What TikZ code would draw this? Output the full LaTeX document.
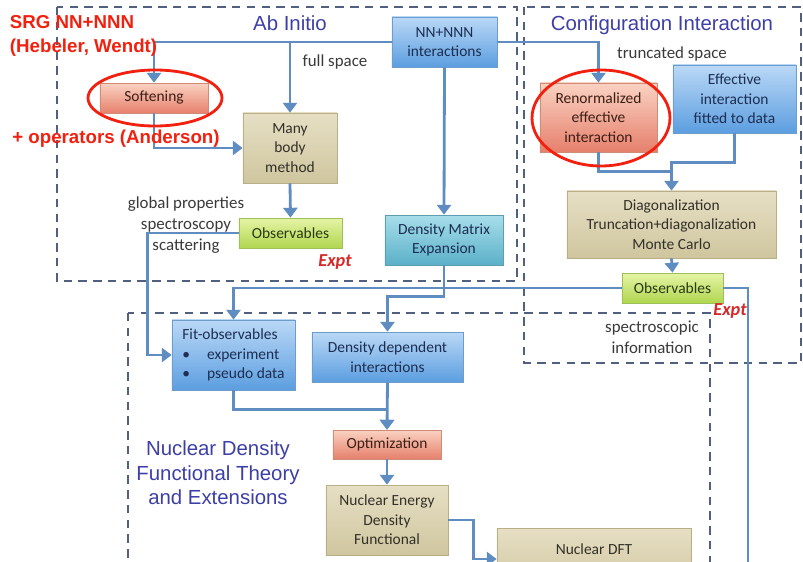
\documentclass[tikz,border=0pt]{standalone}
\usepackage{fontspec}
\setmainfont{Carlito}
\newfontfamily\headfont{Liberation Sans}
\usetikzlibrary{arrows.meta,shadows,calc}
\definecolor{connblue}{HTML}{5F8DC2}
\definecolor{frame}{HTML}{50607E}
\definecolor{headblue}{HTML}{3D3FA6}
\definecolor{markred}{HTML}{F2200F}
\definecolor{exptRed}{HTML}{D42A2A}
\definecolor{noteGray}{HTML}{3A3A3A}
\definecolor{blueTop}{HTML}{BAD8F6}
\definecolor{blueBot}{HTML}{5C9EE0}
\definecolor{blueEdge}{HTML}{6E9CCB}
\definecolor{blueText}{HTML}{1C2E52}
\definecolor{redTop}{HTML}{FAD2C2}
\definecolor{redBot}{HTML}{E6806C}
\definecolor{redEdge}{HTML}{D08A78}
\definecolor{redText}{HTML}{3C1E14}
\definecolor{tanTop}{HTML}{E6DFC4}
\definecolor{tanBot}{HTML}{CFC69F}
\definecolor{tanEdge}{HTML}{B8AE88}
\definecolor{tanText}{HTML}{333028}
\definecolor{greenTop}{HTML}{E6F4A6}
\definecolor{greenBot}{HTML}{B0D650}
\definecolor{greenEdge}{HTML}{9EC05A}
\definecolor{greenText}{HTML}{2A3A12}
\definecolor{tealTop}{HTML}{A8DEEA}
\definecolor{tealBot}{HTML}{5AB0C8}
\definecolor{tealEdge}{HTML}{5E9EB2}
\begin{document}
\begin{tikzpicture}[x=0.025cm,y=-0.025cm,
  basebox/.style={rectangle,align=center,inner sep=0pt,line width=0.5pt,
    font=\fontsize{11}{13.8}\selectfont,
    drop shadow={opacity=0.3,shadow xshift=0.8pt,shadow yshift=-1pt}},
  bluebox/.style={basebox,top color=blueTop,bottom color=blueBot,draw=blueEdge,text=blueText},
  redbox/.style={basebox,top color=redTop,bottom color=redBot,draw=redEdge,text=redText},
  tanbox/.style={basebox,top color=tanTop,bottom color=tanBot,draw=tanEdge,text=tanText},
  greenbox/.style={basebox,top color=greenTop,bottom color=greenBot,draw=greenEdge,text=greenText},
  tealbox/.style={basebox,top color=tealTop,bottom color=tealBot,draw=tealEdge,text=blueText},
  conn/.style={draw=connblue,line width=2pt,-{Triangle[length=7pt,width=10pt]}},
  joinline/.style={draw=connblue,line width=2pt},
  region/.style={draw=frame,line width=1.6pt,dash pattern=on 6pt off 4.5pt},
  ring/.style={draw=markred,line width=2pt},
  head/.style={font=\headfont\fontsize{14.5}{17.5}\selectfont,text=headblue,align=center},
  note/.style={font=\fontsize{12}{15}\selectfont,text=noteGray,align=center},
  expt/.style={font=\bfseries\itshape\fontsize{13}{15}\selectfont,text=exptRed},
  claim/.style={font=\headfont\bfseries\fontsize{13.3}{16.5}\selectfont,text=markred,align=left}]
\useasboundingbox (0,0) rectangle (803,561);
\fill[white] (0,0) rectangle (803,561);
\clip (0,0) rectangle (803,561);
% dashed regions
\draw[region] (57,7) rectangle (517,281);
\draw[region] (524,7) rectangle (801,363);
\draw[region] (128,313) rectangle (710,620);
\node[head] (abTitle) at (290,23) {Ab Initio};
\node[head] (ciTitle) at (662,25) {Configuration Interaction};
\node[head] (dftTitle) at (218,473) {Nuclear Density\\Functional Theory\\and Extensions};
% boxes
\node[bluebox,minimum width=2.625cm,minimum height=1.25cm] (nn) at (444.5,42) {NN+NNN\\interactions};
\node[redbox,minimum width=2.7cm,minimum height=0.75cm] (soft) at (154,98) {Softening};
\node[tanbox,minimum width=2.35cm,minimum height=1.75cm] (mbm) at (290,148) {Many\\body\\method};
\node[greenbox,minimum width=2.575cm,minimum height=0.75cm] (obsA) at (290.5,233) {Observables};
\node[tealbox,minimum width=2.95cm,minimum height=1.25cm] (dme) at (444,240) {Density Matrix\\Expansion};
\node[redbox,minimum width=2.925cm,minimum height=1.725cm] (renorm) at (598.5,117.5) {Renormalized\\effective\\interaction};
\node[bluebox,minimum width=3.075cm,minimum height=1.7cm] (eff) at (734.5,99) {Effective\\interaction\\fitted to data};
\node[tanbox,minimum width=5.225cm,minimum height=1.675cm] (diag) at (671.5,224.5) {Diagonalization\\Truncation+diagonalization\\Monte Carlo};
\node[greenbox,minimum width=2.525cm,minimum height=0.75cm] (obsB) at (672.5,288) {Observables};
\node[bluebox,minimum width=3.075cm,minimum height=1.75cm,align=left] (fit) at (233.5,355) {Fit-observables\\\textbullet\hspace{1.1em}experiment\\\textbullet\hspace{1.1em}pseudo data};
\node[bluebox,minimum width=3.775cm,minimum height=1.25cm] (ddi) at (387.5,357) {Density dependent\\interactions};
\node[redbox,minimum width=2.7cm,minimum height=0.725cm] (opt) at (387,444.5) {Optimization};
\node[tanbox,minimum width=3.05cm,minimum height=1.75cm] (nedf) at (387,520) {Nuclear Energy\\Density\\Functional};
\node[tanbox,minimum width=4.85cm,minimum height=1.55cm] (ndft) at (594,559) {Nuclear DFT\\\mbox{}};
\coordinate (toDFT) at (748,620);
% connectors
\draw[conn] (nn.west) -| (soft.north);
\draw[conn] (nn.west -| mbm.north) -- (mbm.north);
\draw[conn] (nn.east) -| (renorm.north);
\draw[conn] (nn.south) -- (dme.north);
\draw[conn] (soft.south) |- (mbm.west);
\draw[conn] (mbm.south) -- (obsA.north);
\draw[conn] (obsA.west) -- ++(-91,0) |- (fit.west);
\draw[joinline] (renorm.south) |- ($(diag.north)+(0,-19)$);
\draw[conn] (eff.south) -- ++(0,29) -| (diag.north);
\draw[conn] (diag.south) -- (obsB.north);
\draw[conn] (obsB.west) -| (fit.north);
\draw[conn] (obsB.east) -| (toDFT);
\draw[conn] (dme.south) -- ++(0,31) -| (ddi.north);
\draw[conn] (fit.south) -- ++(0,19) -| (opt.north);
\draw[conn] (ddi.south) -- (opt.north);
\draw[conn] (opt.south) -- (nedf.north);
\draw[conn] (nedf.east) -- ++(25,0) |- (ndft.west);
% labels
\node[note] (fullLbl) at (335,62) {full space};
\node[note] (truncLbl) at (672,54) {truncated space};
\node[note] (globLbl) at (186,225) {global properties\\spectroscopy\\scattering};
\node[note] (specLbl) at (652,337) {spectroscopic\\information};
\node[expt] (exptA) at (335,262) {Expt};
\node[expt] (exptB) at (730,311) {Expt};
% red remarks
\draw[ring] (155,98) ellipse [x radius=67, y radius=28];
\draw[ring] (601,118) ellipse [x radius=69, y radius=48];
\node[claim,anchor=west] (srg) at (5,36) {SRG NN+NNN\\(Hebeler, Wendt)};
\node[claim] (ops) at (116,139) {+ operators (Anderson)};
\end{tikzpicture}
\end{document}
